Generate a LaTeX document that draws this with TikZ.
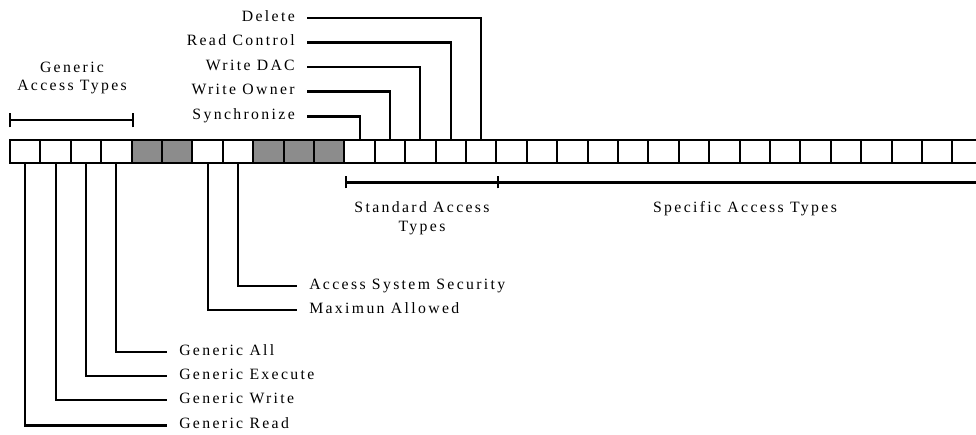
\documentclass[tikz,border=0pt]{standalone}
\usepackage{fontspec}
\setmainfont{Liberation Serif}
\newfontfamily\lblfont[LetterSpace=15]{Liberation Serif}
\definecolor{cellgray}{RGB}{140,140,140}
\begin{document}
\begin{tikzpicture}[x=0.75pt,y=-0.75pt,
  cell/.style={draw=black, line width=1.6pt, fill=white, minimum width=22.8pt, minimum height=17.25pt, inner sep=0pt, outer sep=0pt},
  graycell/.style={cell, fill=cellgray},
  wire/.style={line width=1.6pt},
  lbl/.style={font=\lblfont\fontsize{11.8pt}{14pt}\selectfont, inner ysep=0pt, inner xsep=9pt, text height=0.7em, text depth=0.2em},
  title/.style={font=\lblfont\fontsize{11.8pt}{14pt}\selectfont, align=center, inner sep=0pt}
]
\useasboundingbox (0,0) rectangle (976,435);
\foreach \i in {0,...,31}{
  \pgfmathtruncatemacro\g{(\i==4) || (\i==5) || (\i==8) || (\i==9) || (\i==10)}
  \ifnum\g=1 \def\st{graycell}\else\def\st{cell}\fi
  \node[\st] (c\i) at ({10+30.4*(\i+0.5)},151.5) {};
}
% top labels
\node[lbl, anchor=east] (del) at (307,18) {Delete};
\node[lbl, anchor=east] (rc) at (307,42.5) {Read Control};
\node[lbl, anchor=east] (wd) at (307,67) {Write DAC};
\node[lbl, anchor=east] (wo) at (307,91.5) {Write Owner};
\node[lbl, anchor=east] (syn) at (307,116.5) {Synchronize};
\draw[wire] (c15.north) |- (del.east);
\draw[wire] (c14.north) |- (rc.east);
\draw[wire] (c13.north) |- (wd.east);
\draw[wire] (c12.north) |- (wo.east);
\draw[wire] (c11.north) |- (syn.east);
% bottom labels
\node[lbl, anchor=west] (ass) at (297,286) {Access System Security};
\node[lbl, anchor=west] (ma) at (297,310) {Maximun Allowed};
\node[lbl, anchor=west] (ga) at (167,352) {Generic All};
\node[lbl, anchor=west] (ge) at (167,376) {Generic Execute};
\node[lbl, anchor=west] (gw) at (167,400) {Generic Write};
\node[lbl, anchor=west] (gr) at (167,425.5) {Generic Read};
\draw[wire] (c7.south) |- (ass.west);
\draw[wire] (c6.south) |- (ma.west);
\draw[wire] (c3.south) |- (ga.west);
\draw[wire] (c2.south) |- (ge.west);
\draw[wire] (c1.south) |- (gw.west);
\draw[wire] (c0.south) |- (gr.west);
% brackets
\coordinate (gL) at (10,120);
\coordinate (gR) at (133,120);
\draw[wire] (gL) -- (gR);
\draw[wire] ([yshift=-5.5pt]gL) -- ([yshift=5.5pt]gL);
\draw[wire] ([yshift=-5.5pt]gR) -- ([yshift=5.5pt]gR);
\coordinate (sL) at (346,182.5);
\coordinate (sM) at (498,182.5);
\coordinate (sR) at (990,182.5);
\draw[wire] (sL) -- (sR);
\draw[wire] ([yshift=-4.5pt]sL) -- ([yshift=4.5pt]sL);
\draw[wire] ([yshift=-4.5pt]sM) -- ([yshift=4.5pt]sM);
% titles
\node[title] (gat) at (72,78) {Generic\\Access Types};
\node[title] (sat) at (422,218.5) {Standard Access\\Types};
\node[title] (spat) at (745,209) {Specific Access Types};
\end{tikzpicture}
\end{document}
